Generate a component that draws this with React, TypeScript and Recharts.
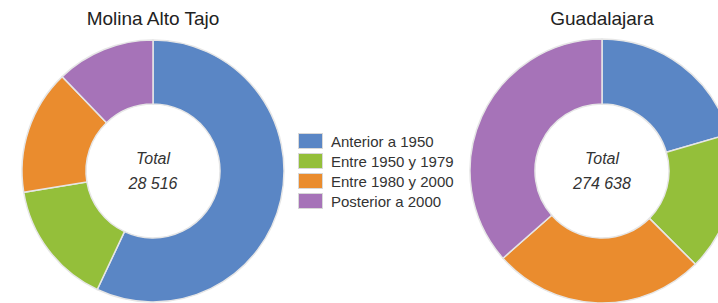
import React from 'react';
import { PieChart, Pie, Cell } from 'recharts';

const categories = ['Anterior a 1950', 'Entre 1950 y 1979', 'Entre 1980 y 2000', 'Posterior a 2000'];
const colors = ['#5a86c5', '#94bf3a', '#ea8c2e', '#a673b8'];
const molinaValues = [57, 15.4, 15.4, 12.2];
const guadalajaraValues = [20.5, 17, 26, 36.5];
const titles = ['Molina Alto Tajo', 'Guadalajara'];
const totals = ['28 516', '274 638'];

const molinaData = categories.map((name, i) => ({ name, value: molinaValues[i] }));
const guadaData = categories.map((name, i) => ({ name, value: guadalajaraValues[i] }));

const FONT = 'Liberation Sans, Arial, sans-serif';

function CenterText({ cx, total }: { cx: number; total: string }) {
  return (
    <div
      style={{
        position: 'absolute',
        left: cx - 50,
        top: 146,
        width: 100,
        textAlign: 'center',
        fontFamily: FONT,
        fontSize: 16,
        fontStyle: 'italic',
        color: '#333',
        lineHeight: '25px',
      }}
    >
      <div>Total</div>
      <div>{total}</div>
    </div>
  );
}

export default function App() {
  return (
    <div style={{ position: 'absolute', left: 0, top: 0, width: 718, height: 303, background: '#fff', overflow: 'hidden' }}>
      <PieChart width={718} height={303} margin={{ top: 0, right: 0, bottom: 0, left: 0 }}>
        <Pie
          data={molinaData}
          dataKey="value"
          cx={153}
          cy={171}
          outerRadius={131}
          innerRadius={67}
          startAngle={90}
          endAngle={-270}
          stroke="#e6e6e6"
          strokeWidth={1.5}
          isAnimationActive={false}
        >
          {molinaData.map((d, i) => (
            <Cell key={d.name} fill={colors[i]} />
          ))}
        </Pie>
        <Pie
          data={guadaData}
          dataKey="value"
          cx={602}
          cy={171}
          outerRadius={132}
          innerRadius={67}
          startAngle={90}
          endAngle={-270}
          stroke="#e6e6e6"
          strokeWidth={1.5}
          isAnimationActive={false}
        >
          {guadaData.map((d, i) => (
            <Cell key={d.name} fill={colors[i]} />
          ))}
        </Pie>
      </PieChart>
      <CenterText cx={153} total={totals[0]} />
      <CenterText cx={602} total={totals[1]} />
      <div style={{ position: 'absolute', left: 0, top: 8, width: 306, textAlign: 'center', fontFamily: FONT, fontSize: 19, color: '#222' }}>
        {titles[0]}
      </div>
      <div style={{ position: 'absolute', left: 452, top: 8, width: 300, textAlign: 'center', fontFamily: FONT, fontSize: 19, color: '#222' }}>
        {titles[1]}
      </div>
      <div style={{ position: 'absolute', left: 298, top: 131, fontFamily: FONT, fontSize: 15, color: '#333' }}>
        {categories.map((c, i) => (
          <div key={c} style={{ display: 'flex', alignItems: 'center', height: 20 }}>
            <div style={{ width: 25, height: 16, background: colors[i], border: '1px solid #d8d8d8', boxSizing: 'border-box', marginRight: 8 }} />
            <span>{c}</span>
          </div>
        ))}
      </div>
    </div>
  );
}
